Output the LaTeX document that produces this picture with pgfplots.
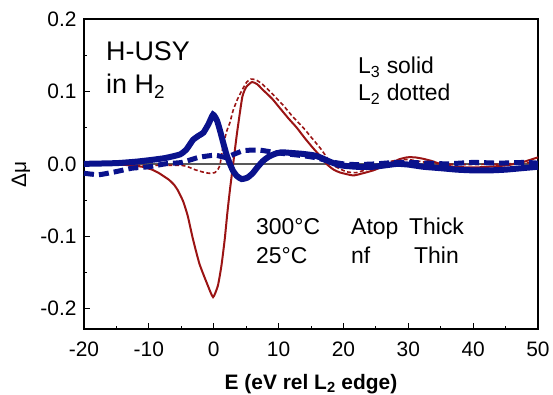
\documentclass[border=0pt]{standalone}
\usepackage{pgfplots}
\pgfplotsset{compat=1.18}
\usepackage{fontspec}
\setmainfont{Liberation Sans}
\usetikzlibrary{calc}
\definecolor{cred}{RGB}{155,20,20}
\definecolor{cblue}{RGB}{10,18,140}
\newcommand{\fs}[1]{\fontsize{#1}{#1}\selectfont}
\begin{document}
\begin{tikzpicture}
\begin{axis}[
  scale only axis,
  width=454bp, height=310bp,
  xmin=-20, xmax=50, ymin=-0.228, ymax=0.2,
  xtick={-20,-10,0,10,20,30,40,50},
  ytick={-0.2,-0.1,0,0.1,0.2},
  minor x tick num=1, minor y tick num=1,
  tick pos=left, tick align=inside,
  major tick length=6bp, minor tick length=3.5bp,
  every tick/.style={black, line width=1bp},
  axis line style={black, line width=1.5bp},
  /pgf/number format/assume math mode=true,
  yticklabel style={/pgf/number format/fixed, /pgf/number format/fixed zerofill, /pgf/number format/precision=1, xshift=-4bp},
  scaled y ticks=false,
  ticklabel style={font=\fs{21}},
  xticklabel style={yshift=-9bp},
  xlabel={\textbf{E (eV rel L\textsubscript{2} edge)}},
  xlabel style={font=\fs{21}, at={(axis description cs:0.5,0)}, anchor=base, yshift=-60bp},
  ylabel={Δμ},
  ylabel style={font=\fs{21}, at={(axis description cs:-0.139,0.5)}, anchor=center},
  clip=false,
]
\addplot[black!65, line width=1.3bp] coordinates {(-20,0) (50,0)};
% red solid: L3, 25C
\addplot[cred, line width=2bp, smooth, tension=0.3] coordinates {
(-20,0) (-16,0) (-13,-0.002) (-11,-0.004) (-9.5,-0.008) (-8.4,-0.013) (-6.9,-0.022) (-6.1,-0.029) (-5.5,-0.037) (-4.7,-0.052) (-4,-0.072) (-3.2,-0.104) (-2.2,-0.138) (-1,-0.166) (-0.1,-0.184) (0.65,-0.168) (1.2,-0.14) (1.7,-0.104) (2.1,-0.068) (2.5,-0.036) (3.0,0) (3.6,0.043) (4.4,0.092) (5,0.106) (5.9,0.113) (6.7,0.11) (7.6,0.102) (9,0.09) (10.2,0.077) (11.5,0.063) (12.8,0.05) (14,0.036) (15.3,0.022) (16.5,0.01) (17.5,-0.001) (18.5,-0.008) (19.5,-0.012) (21.5,-0.016) (23,-0.013) (24.6,-0.009) (26,-0.004) (27.2,0) (28.5,0.006) (29.8,0.009) (31,0.009) (32.3,0.007) (33.6,0.004) (34.9,0) (37,-0.004) (40,-0.005) (42.5,-0.004) (45.2,-0.002) (47.5,0.002) (50,0.009)
};
% red dashed: L2, 25C
\addplot[cred, line width=1.6bp, dash pattern=on 4bp off 2.5bp, smooth, tension=0.3] coordinates {
(-20,0) (-16,-0.001) (-12,-0.002) (-8,-0.002) (-5,-0.002) (-4,-0.004) (-2.9,-0.008) (-1.8,-0.011) (-0.7,-0.013) (0.2,-0.012) (0.7,-0.007) (1.0,0) (1.4,0.023) (2.0,0.045) (2.5,0.057) (3,0.074) (3.7,0.09) (4.5,0.104) (5.1,0.113) (5.7,0.117) (6.5,0.116) (7.5,0.11) (9,0.097) (10.7,0.081) (12.2,0.065) (13.8,0.05) (15.1,0.036) (16.4,0.022) (17.2,0.012) (17.9,0.003) (18.8,-0.004) (20.5,-0.011) (22,-0.012) (23.5,-0.008) (25,-0.003) (26.5,0.002) (28.3,0.005) (30,0.006) (32,0.003) (35,0.0) (40,-0.001) (45,0.0) (50,0.002)
};
% blue dashed: L2, 300C
\addplot[cblue, line width=5bp, dash pattern=on 10bp off 5bp, smooth, tension=0.3] coordinates {
(-20,-0.013) (-17.7,-0.015) (-15.2,-0.011) (-12.6,-0.006) (-10,-0.004) (-7.5,0) (-4.9,0.002) (-2.3,0.009) (0.2,0.012) (1.7,0.009) (2.5,0.011) (4.5,0.018) (6,0.019) (7.1,0.019) (8.5,0.017) (10,0.015) (12,0.013) (14,0.011) (16,0.008) (18,0.003) (20,0.0) (22,-0.001) (25,0.0) (28,0.002) (30,0.002) (33,0.001) (36,0.0) (40,0.002) (44,0.001) (48,0.002) (50,0.001)
};
% blue solid: L3, 300C
\addplot[cblue, line width=6bp, smooth, tension=0.3] coordinates {
(-20,0) (-15,0.001) (-12,0.003) (-10,0.005) (-7.5,0.008) (-5.2,0.013) (-4.2,0.02) (-3.2,0.033) (-2.3,0.039) (-1.6,0.043) (-0.8,0.055) (-0.1,0.068) (0.5,0.06) (1.0,0.045) (1.5,0.028) (2.0,0.012) (2.5,0.0) (3.0,-0.01) (3.6,-0.017) (4.3,-0.021) (5.2,-0.019) (6.0,-0.013) (6.8,-0.004) (7.6,0.004) (8.5,0.01) (9.5,0.014) (10.5,0.016) (12,0.015) (13.5,0.014) (15.3,0.012) (16.4,0.009) (17.9,0.003) (19.5,-0.002) (22,-0.004) (24.6,-0.004) (26.5,-0.002) (28.3,0.0) (30,-0.001) (32.3,-0.004) (35,-0.006) (37.5,-0.008) (40,-0.009) (42.6,-0.009) (45,-0.008) (47.5,-0.006) (50,-0.004)
};
\node[anchor=base west, inner sep=0, font=\fs{27}] at (axis cs:-16.61,0.1428) {H-USY};
\node[anchor=base west, inner sep=0, font=\fs{27}] at (axis cs:-16.61,0.0972) {in H\textsubscript{2}};
\node[anchor=base west, inner sep=0, font=\fs{23}] at (axis cs:22.25,0.1248) {L\textsubscript{3} solid};
\node[anchor=base west, inner sep=0, font=\fs{23}] at (axis cs:22.25,0.0876) {L\textsubscript{2} dotted};
\node[anchor=base west, inner sep=0, font=\fs{23}] at (axis cs:6.52,-0.0972) {300°C};
\node[anchor=base west, inner sep=0, font=\fs{23}] at (axis cs:6.52,-0.1372) {25°C};
\node[anchor=base west, inner sep=0, font=\fs{23}] at (axis cs:21.17,-0.0972) {Atop};
\node[anchor=base west, inner sep=0, font=\fs{23}] at (axis cs:30.11,-0.0972) {Thick};
\node[anchor=base west, inner sep=0, font=\fs{23}] at (axis cs:21.17,-0.1372) {nf};
\node[anchor=base west, inner sep=0, font=\fs{23}] at (axis cs:30.88,-0.1372) {Thin};
\end{axis}
\pgfresetboundingbox
\path ($(current axis.south west)+(-84bp,-66bp)$) rectangle ($(current axis.north east)+(15bp,19bp)$);
\end{tikzpicture}
\end{document}
